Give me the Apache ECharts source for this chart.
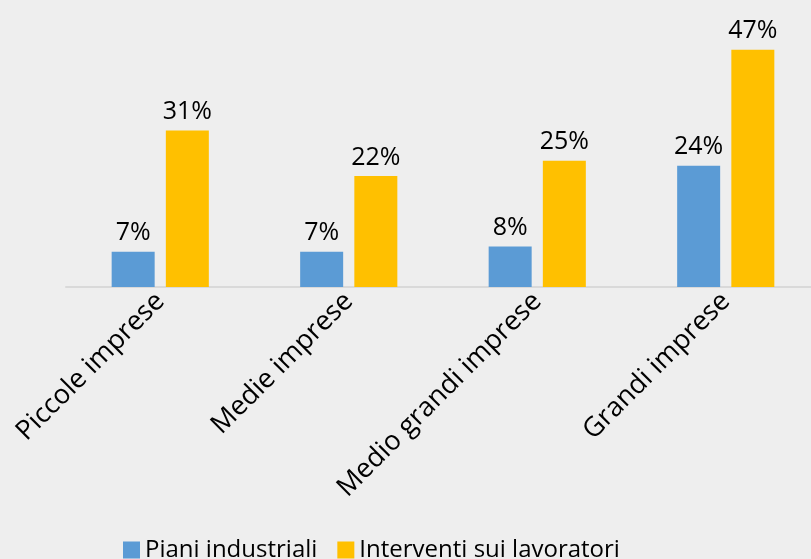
<!DOCTYPE html>
<html>
<head>
<meta charset="utf-8">
<script src="https://cdn.jsdelivr.net/npm/echarts@6/dist/echarts.min.js"></script>
<style>
  html, body { margin: 0; padding: 0; background: #eeeeee; }
  #chart { width: 811px; height: 559px; }
</style>
</head>
<body>
<div id="chart"></div>
<script>
const categories = ["Piccole imprese", "Medie imprese", "Medio grandi imprese", "Grandi imprese"];
const pianiIndustriali = [7, 7, 8, 24];
const interventiLavoratori = [31, 22, 25, 47];

const font = "'Open Sans', 'Noto Sans', sans-serif";
const chart = echarts.init(document.getElementById("chart"));

const labelStyle = {
  show: true,
  position: "top",
  formatter: "{c}%",
  color: "#000",
  fontSize: 25,
  fontFamily: font,
  distance: 6
};

chart.setOption({
  backgroundColor: "#eeeeee",
  animation: false,
  // plot area runs past the right edge, as in the original
  grid: { left: 66, width: 754, top: 34.5, bottom: 272, outerBoundsMode: "none" },
  legend: {
    bottom: -8,
    left: 118,
    itemWidth: 17,
    itemHeight: 17,
    itemGap: 20,
    icon: "rect",
    textStyle: { fontSize: 24, fontFamily: font, color: "#000" },
    data: ["Piani industriali", "Interventi sui lavoratori"]
  },
  xAxis: {
    type: "category",
    data: categories,
    axisLine: { lineStyle: { color: "#d9d9d9", width: 2 } },
    axisTick: { show: false },
    axisLabel: {
      rotate: 45,
      interval: 0,
      margin: 10,
      color: "#000",
      fontSize: 27,
      fontFamily: font
    }
  },
  yAxis: {
    type: "value",
    min: 0,
    max: 50,
    show: false,
    splitLine: { show: false }
  },
  series: [
    {
      name: "Piani industriali",
      type: "bar",
      data: pianiIndustriali,
      barWidth: 43,
      barGap: "26%",
      itemStyle: { color: "#5b9bd5" },
      label: labelStyle
    },
    {
      name: "Interventi sui lavoratori",
      type: "bar",
      data: interventiLavoratori,
      barWidth: 43,
      itemStyle: { color: "#ffc000" },
      label: labelStyle
    }
  ]
});
</script>
</body>
</html>
